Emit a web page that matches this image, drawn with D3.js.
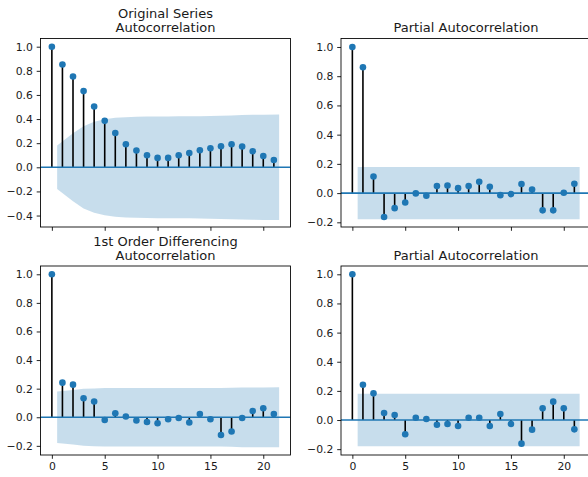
<!DOCTYPE html>
<html>
<head>
<meta charset="utf-8">
<script src="https://cdn.jsdelivr.net/npm/d3@7"></script>
<style>
  html, body { margin: 0; padding: 0; background: #fff; }
  svg { display: block; font-family: "DejaVu Sans", sans-serif; }
</style>
</head>
<body>
<svg id="chart" width="588" height="477"></svg>
<script>
// Lags 0..21 shared by every panel
const lags = d3.range(0, 22);

// Original series: autocorrelation and its Bartlett band half-width (lags 1..21)
const acfOriginal = [1.0, 0.853, 0.753, 0.632, 0.504, 0.385, 0.285, 0.191, 0.139, 0.100, 0.078,
  0.078, 0.100, 0.119, 0.141, 0.158, 0.175, 0.191, 0.172, 0.133, 0.094, 0.061];
const acfOriginalBand = [0.180, 0.282, 0.341, 0.377, 0.398, 0.410, 0.416, 0.419, 0.421, 0.422,
  0.422, 0.423, 0.423, 0.424, 0.426, 0.428, 0.430, 0.433, 0.435, 0.436, 0.437];

// Original series: partial autocorrelation and its band half-width
const pacfOriginal = [1.0, 0.861, 0.114, -0.164, -0.103, -0.064, -0.002, -0.018, 0.048, 0.052, 0.034,
  0.048, 0.077, 0.043, -0.014, -0.007, 0.062, 0.025, -0.118, -0.118, 0.002, 0.064];
const pacfOriginalBand = [0.179, 0.179, 0.179, 0.179, 0.179, 0.179, 0.179, 0.179, 0.179, 0.179,
  0.179, 0.179, 0.179, 0.179, 0.179, 0.179, 0.179, 0.179, 0.179, 0.179, 0.179];

// First-order differenced series: autocorrelation and band half-width
const acfDiff = [1.0, 0.242, 0.228, 0.133, 0.110, -0.019, 0.028, 0.005, -0.023, -0.033, -0.042,
  -0.014, -0.005, -0.037, 0.023, -0.014, -0.124, -0.100, -0.005, 0.044, 0.063, 0.023];
const acfDiffBand = [0.180, 0.190, 0.199, 0.202, 0.204, 0.204, 0.204, 0.204, 0.205, 0.205,
  0.205, 0.205, 0.205, 0.205, 0.205, 0.205, 0.207, 0.209, 0.209, 0.209, 0.210];

// First-order differenced series: partial autocorrelation and band half-width
const pacfDiff = [1.0, 0.242, 0.183, 0.048, 0.034, -0.098, 0.016, 0.007, -0.032, -0.027, -0.041,
  0.016, 0.016, -0.041, 0.041, -0.027, -0.162, -0.066, 0.080, 0.126, 0.080, -0.064];
const pacfDiffBand = [0.180, 0.180, 0.180, 0.180, 0.180, 0.180, 0.180, 0.180, 0.180, 0.180,
  0.180, 0.180, 0.180, 0.180, 0.180, 0.180, 0.180, 0.180, 0.180, 0.180, 0.180];

const xTicks = [0, 5, 10, 15, 20];
const yTicksOriginalAcf = [-0.4, -0.2, 0.0, 0.2, 0.4, 0.6, 0.8, 1.0];
const yTicksOther = [-0.2, 0.0, 0.2, 0.4, 0.6, 0.8, 1.0];

const C0 = "#1f77b4";
const textColor = "#1a1a1a";
const tickFont = 10.8;
const titleFont = 13;

const panels = [
  { title: ["Original Series", "Autocorrelation"], values: acfOriginal, band: acfOriginalBand,
    yTicks: yTicksOriginalAcf, yDomain: [-0.495, 1.068],
    box: { x0: 40.5, x1: 290.5, y0: 38.5, y1: 227 }, xLabels: false },
  { title: ["Partial Autocorrelation"], values: pacfOriginal, band: pacfOriginalBand,
    yTicks: yTicksOther, yDomain: [-0.232, 1.058],
    box: { x0: 341, x1: 591, y0: 38.5, y1: 227 }, xLabels: false },
  { title: ["1st Order Differencing", "Autocorrelation"], values: acfDiff, band: acfDiffBand,
    yTicks: yTicksOther, yDomain: [-0.264, 1.058],
    box: { x0: 40.5, x1: 290.5, y0: 266, y1: 455 }, xLabels: true },
  { title: ["Partial Autocorrelation"], values: pacfDiff, band: pacfDiffBand,
    yTicks: yTicksOther, yDomain: [-0.240, 1.057],
    box: { x0: 341, x1: 591, y0: 266, y1: 455 }, xLabels: true }
];

const svg = d3.select("#chart");

panels.forEach((p, i) => {
  const b = p.box;
  const x = d3.scaleLinear().domain([-1.075, 22.575]).range([b.x0, b.x1]);
  const y = d3.scaleLinear().domain(p.yDomain).range([b.y1, b.y0]);

  const g = svg.append("g");
  const clipId = "clip" + i;
  g.append("clipPath").attr("id", clipId)
    .append("rect").attr("x", b.x0).attr("y", b.y0)
    .attr("width", b.x1 - b.x0).attr("height", b.y1 - b.y0);

  const plot = g.append("g").attr("clip-path", `url(#${clipId})`);

  // Confidence band: lag 1 shifted to 0.5, last lag shifted to 21.5
  const bandLags = lags.slice(1).map((l, k, arr) =>
    k === 0 ? l - 0.5 : (k === arr.length - 1 ? l + 0.5 : l));
  const bandPts = bandLags.map((l, k) => ({ l, h: p.band[k] }));
  plot.append("path")
    .datum(bandPts)
    .attr("fill", C0)
    .attr("fill-opacity", 0.25)
    .attr("d", d3.area().x(d => x(d.l)).y0(d => y(-d.h)).y1(d => y(d.h)));

  // Stems
  plot.selectAll("line.stem")
    .data(lags)
    .join("line")
    .attr("class", "stem")
    .attr("x1", d => x(d)).attr("x2", d => x(d))
    .attr("y1", y(0)).attr("y2", d => y(p.values[d]))
    .attr("stroke", "#000")
    .attr("stroke-width", 1.6);

  // Zero line
  plot.append("line")
    .attr("x1", b.x0).attr("x2", b.x1)
    .attr("y1", y(0)).attr("y2", y(0))
    .attr("stroke", C0)
    .attr("stroke-width", 1.6);

  // Markers
  plot.selectAll("circle.pt")
    .data(lags)
    .join("circle")
    .attr("class", "pt")
    .attr("cx", d => x(d))
    .attr("cy", d => y(p.values[d]))
    .attr("r", 3.3)
    .attr("fill", C0);

  // Axes
  const xAxis = d3.axisBottom(x).tickValues(xTicks).tickSize(3.8).tickPadding(3.9)
    .tickFormat(p.xLabels ? d3.format("d") : () => "");
  const yAxis = d3.axisLeft(y).tickValues(p.yTicks).tickSize(3.8).tickPadding(3.9)
    .tickFormat(d3.format(".1f"));

  const xg = g.append("g").attr("transform", `translate(0,${b.y1})`).call(xAxis);
  const yg = g.append("g").attr("transform", `translate(${b.x0},0)`).call(yAxis);
  [xg, yg].forEach(ax => {
    ax.select(".domain").remove();
    ax.selectAll(".tick line").attr("stroke", "#000").attr("stroke-width", 0.87);
    ax.selectAll(".tick text")
      .attr("fill", textColor)
      .style("font-size", tickFont + "px")
      .style("font-family", "DejaVu Sans, sans-serif");
  });

  // Frame
  g.append("rect")
    .attr("x", b.x0).attr("y", b.y0)
    .attr("width", b.x1 - b.x0).attr("height", b.y1 - b.y0)
    .attr("fill", "none")
    .attr("stroke", "#000")
    .attr("stroke-width", 0.87);

  // Title
  const cx = (b.x0 + b.x1) / 2;
  const lineGap = 14;
  const lastBaseline = b.y0 - 6.2;
  p.title.forEach((t, k) => {
    g.append("text")
      .attr("x", cx)
      .attr("y", lastBaseline - (p.title.length - 1 - k) * lineGap)
      .attr("text-anchor", "middle")
      .attr("fill", textColor)
      .style("font-size", titleFont + "px")
      .text(t);
  });
});
</script>
</body>
</html>
